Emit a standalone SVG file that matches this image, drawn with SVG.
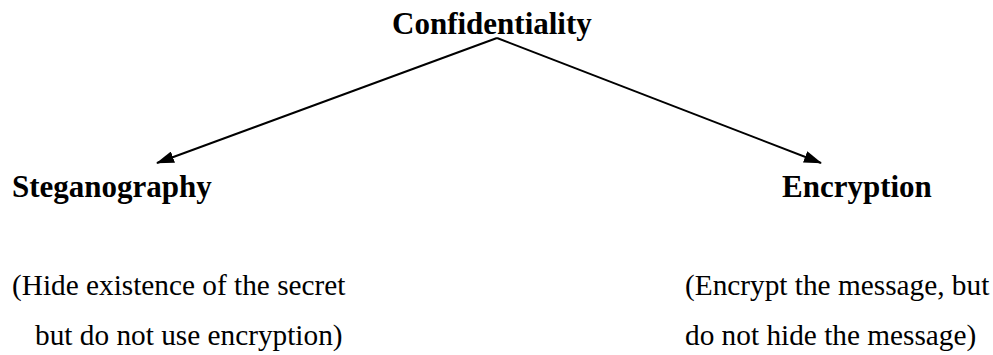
<svg xmlns="http://www.w3.org/2000/svg" width="993" height="355" viewBox="0 0 993 355">
  <style>
    .title { font-family: "Liberation Serif", "Times New Roman", serif; font-weight: bold; font-size: 31px; fill: #000; }
    .note { font-family: "Liberation Serif", "Times New Roman", serif; font-size: 29.3px; fill: #000; }
    .edge { stroke: #000; stroke-width: 2; fill: none; }
  </style>
  <defs>
    <marker id="arrow" markerWidth="18" markerHeight="12" refX="17" refY="6" orient="auto" markerUnits="userSpaceOnUse">
      <path d="M0,0 L18,6 L0,12 Z" fill="#000"/>
    </marker>
  </defs>
  <rect width="993" height="355" fill="#fff"/>

  <!-- branches from the top concept to its two techniques -->
  <g id="connectors">
    <line class="edge" x1="497" y1="38" x2="157" y2="163" marker-end="url(#arrow)"/>
    <line class="edge" x1="497" y1="38" x2="821" y2="163" marker-end="url(#arrow)"/>
  </g>

  <g id="confidentiality">
    <text class="title" x="392" y="34">Confidentiality</text>
  </g>

  <g id="steganography">
    <text class="title" x="12" y="197">Steganography</text>
    <text class="note" x="12" y="295">(Hide existence of the secret</text>
    <text class="note" x="35" y="345">but do not use encryption)</text>
  </g>

  <g id="encryption">
    <text class="title" x="782" y="197">Encryption</text>
    <text class="note" x="685" y="295">(Encrypt the message, but</text>
    <text class="note" x="685" y="345">do not hide the message)</text>
  </g>
</svg>
